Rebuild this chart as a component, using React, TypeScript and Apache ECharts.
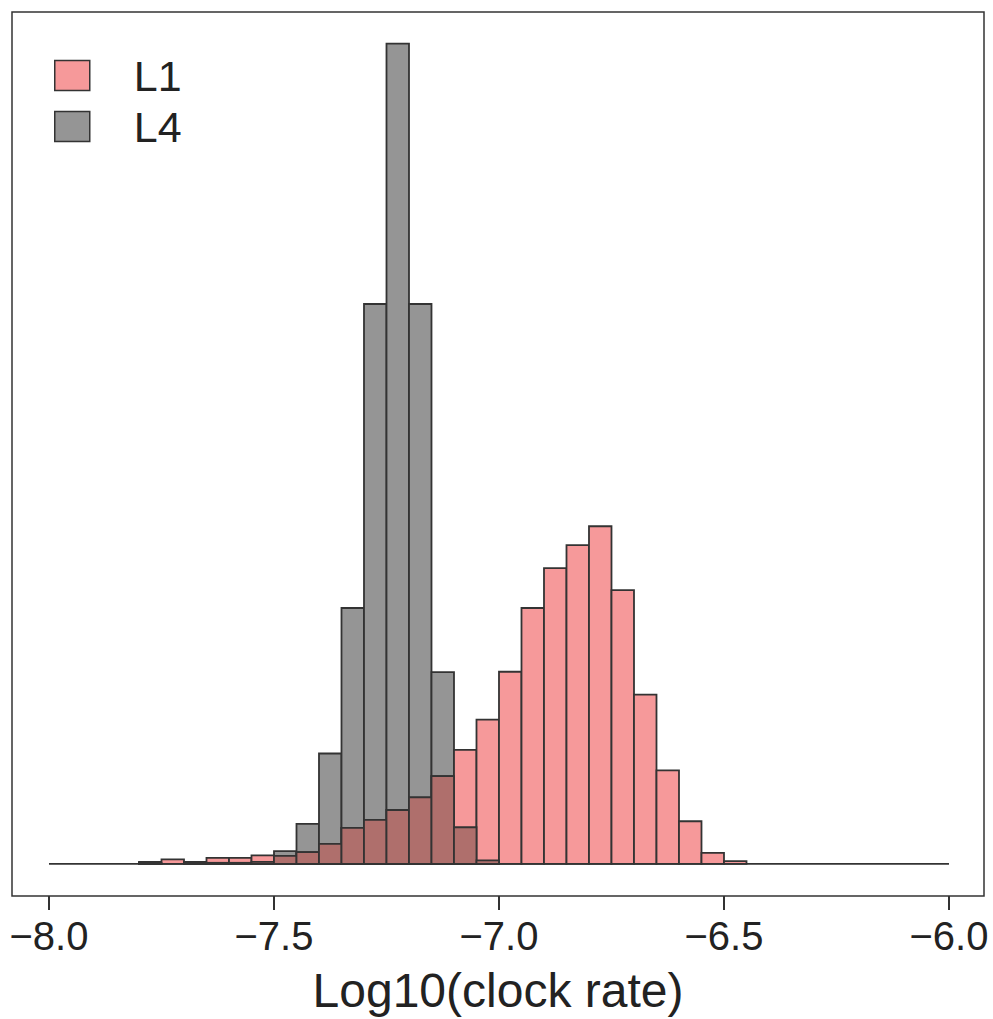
import React, { useEffect, useRef } from "react";
import * as echarts from "echarts";

// Histogram bins (left edges), width 0.05 in log10(clock rate)
const BIN_STARTS = [
  -7.8, -7.75, -7.7, -7.65, -7.6, -7.55, -7.5, -7.45, -7.4, -7.35, -7.3, -7.25, -7.2, -7.15,
  -7.1, -7.05, -7.0, -6.95, -6.9, -6.85, -6.8, -6.75, -6.7, -6.65, -6.6, -6.55, -6.5,
];
const BIN_WIDTH = 0.05;

// Frequencies (arbitrary units)
const L1_VALUES = [
  2, 4.5, 2, 6, 6, 8.4, 8, 11.7, 20, 36, 44, 54, 66.7, 88,
  114.3, 144.7, 192.7, 256.7, 296.7, 319.7, 338.7, 274.7, 169.7, 93.7, 42.7, 11, 2.7,
];
const L4_VALUES = [
  1, 0, 1, 1, 1, 2, 12.7, 40, 110.7, 256.7, 561.7, 823, 561.7, 192.4,
  36.7, 3.4, 0, 0, 0, 0, 0, 0, 0, 0, 0, 0, 0,
];

const X_TICKS = [-8.0, -7.5, -7.0, -6.5, -6.0];
const BASELINE = [
  [-8.0, 0],
  [-6.0, 0],
];

const PINK = "#F6999A";
const GRAY = "#959595";
const OVERLAP = "#AF6F6C";
const EDGE = "#333333";
const FONT = "Liberation Sans, Arial, sans-serif";

function histData(values: number[]) {
  return BIN_STARTS.map((s, i) => [s, s + BIN_WIDTH, values[i]]);
}

function makeRender(fill: string) {
  return (params: any, api: any) => {
    const x0 = api.value(0);
    const x1 = api.value(1);
    const v = api.value(2);
    if (!v) return { type: "group", children: [] };
    const p0 = api.coord([x0, 0]);
    const p1 = api.coord([x1, v]);
    return {
      type: "rect",
      shape: { x: p0[0], y: p1[1], width: p1[0] - p0[0], height: p0[1] - p1[1] },
      style: { fill, stroke: EDGE, lineWidth: 1.8 },
    };
  };
}

export default function App() {
  const ref = useRef<HTMLDivElement>(null);
  useEffect(() => {
    document.body.style.margin = "0";
    if (!ref.current) return;
    const chart = echarts.init(ref.current, undefined, { renderer: "svg" });
    const overlapValues = L1_VALUES.map((v, i) => Math.min(v, L4_VALUES[i]));
    chart.setOption({
      animation: false,
      backgroundColor: "#ffffff",
      grid: {
        left: 12,
        top: 12,
        width: 972,
        height: 887,
        show: true,
        borderColor: EDGE,
        borderWidth: 1.5,
        backgroundColor: "transparent",
      },
      legend: {
        orient: "vertical",
        left: 54,
        top: 54,
        padding: 0,
        itemWidth: 35,
        itemHeight: 30,
        itemGap: 8,
        icon: "rect",
        data: [
          { name: "L1", itemStyle: { color: PINK, borderColor: EDGE, borderWidth: 1.5 } },
          { name: "L4", itemStyle: { color: GRAY, borderColor: EDGE, borderWidth: 1.5 } },
        ],
        textStyle: {
          fontFamily: FONT,
          fontSize: 43,
          color: "#222",
          lineHeight: 30,
          padding: [0, 0, 0, 39],
        },
      },
      xAxis: {
        type: "value",
        min: -8.0822,
        max: -5.9222,
        name: "Log10(clock rate)",
        nameLocation: "middle",
        nameGap: 70,
        nameTextStyle: { fontFamily: FONT, fontSize: 48, color: "#222" },
        axisLine: { show: false, onZero: false },
        splitLine: { show: false },
        axisTick: {
          show: true,
          length: 14,
          customValues: X_TICKS,
          lineStyle: { color: EDGE, width: 2 },
        },
        axisLabel: {
          customValues: X_TICKS,
          margin: 20,
          fontFamily: FONT,
          fontSize: 40,
          color: "#222",
          formatter: (v: number) => (v < 0 ? "\u2212" : "") + Math.abs(v).toFixed(1),
        },
      },
      yAxis: {
        type: "value",
        min: -32.3,
        max: 854.7,
        show: false,
        splitLine: { show: false },
      },
      series: [
        {
          name: "baseline",
          type: "line",
          data: BASELINE,
          symbol: "none",
          silent: true,
          lineStyle: { color: EDGE, width: 1.8 },
          z: 1,
        },
        {
          name: "L4",
          type: "custom",
          renderItem: makeRender(GRAY),
          itemStyle: { color: GRAY, borderColor: EDGE, borderWidth: 1.5 },
          data: histData(L4_VALUES),
          z: 2,
        },
        {
          name: "L1",
          type: "custom",
          renderItem: makeRender(PINK),
          itemStyle: { color: PINK, borderColor: EDGE, borderWidth: 1.5 },
          data: histData(L1_VALUES),
          z: 3,
        },
        {
          name: "overlap",
          type: "custom",
          renderItem: makeRender(OVERLAP),
          itemStyle: { color: OVERLAP },
          data: histData(overlapValues),
          z: 4,
        },
      ],
    });
    return () => chart.dispose();
  }, []);
  return <div ref={ref} style={{ width: 993, height: 1019 }} />;
}
